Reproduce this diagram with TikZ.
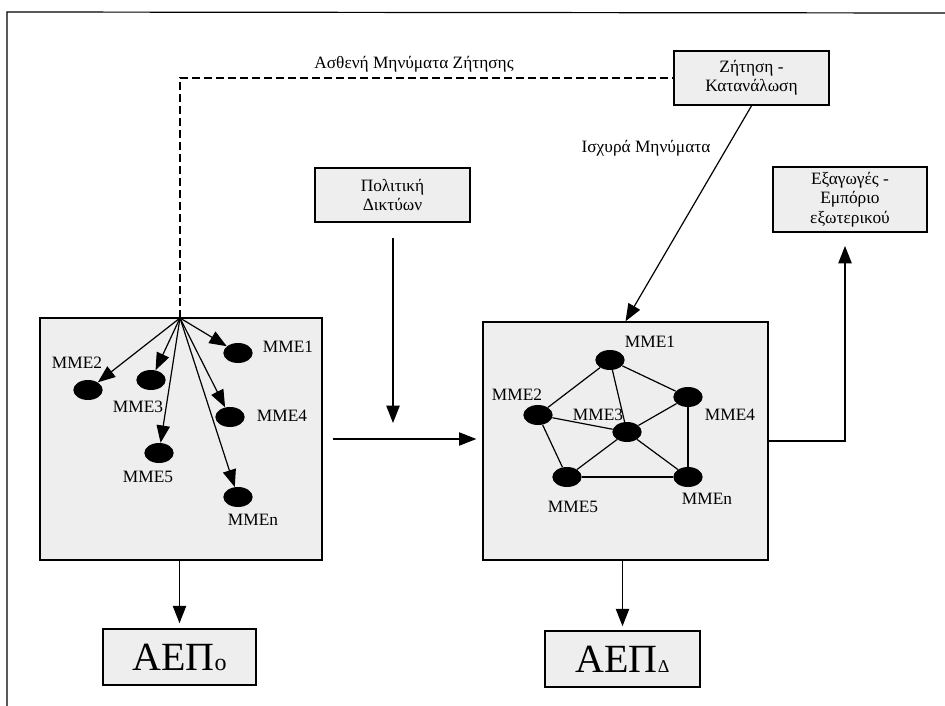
\documentclass[tikz,border=0pt]{standalone}
\usepackage{fontspec}
\setmainfont{Liberation Serif}
\usetikzlibrary{shapes.geometric,arrows.meta}

\begin{document}
\begin{tikzpicture}[x=0.75pt,y=-0.75pt,
  box/.style={draw,line width=1.2pt,fill=gray!13,align=center,
    font=\fontsize{13}{14.5}\selectfont,inner sep=0pt},
  bigbox/.style={draw,line width=1pt,fill=gray!13,inner sep=0pt},
  mme/.style={ellipse,fill=black,minimum width=22pt,minimum height=15pt,inner sep=0pt},
  lbl/.style={font=\fontsize{13}{14}\selectfont,inner sep=0pt},
  wire/.style={line width=0.9pt},
  arr/.style={-{Triangle[length=13pt,width=10pt]},line width=0.9pt}]
\useasboundingbox (0,0) rectangle (945,706);
\draw[line width=0.9pt] (7,706) -- (7,12) -- (945,13);

% boxes
\node[box,minimum width=116pt,minimum height=40.5pt] (zitisi) at (751.5,78) {Ζήτηση -\\Κατανάλωση};
\node[box,minimum width=116pt,minimum height=40.5pt] (politiki) at (392.5,195) {Πολιτική\\Δικτύων};
\node[box,minimum width=115.5pt,minimum height=49pt] (exagoges) at (850,199.5) {Εξαγωγές -\\Εμπόριο\\εξωτερικού};
\node[bigbox,minimum width=211.5pt,minimum height=181.5pt] (leftbox) at (181,439) {};
\node[bigbox,minimum width=213.75pt,minimum height=178.5pt] (rightbox) at (625.5,441) {};
\node[box,minimum width=114.75pt,minimum height=42pt,font=\fontsize{30}{32}\selectfont] (aepO) at (179.5,657) {ΑΕΠ{\fontsize{18}{18}\selectfont o}};
\node[box,minimum width=116.25pt,minimum height=42pt,font=\fontsize{30}{32}\selectfont] (aepD) at (622.5,659) {ΑΕΠ{\fontsize{13.5}{14}\selectfont Δ}};

% messages
\coordinate (fan) at (180,318);
\draw[wire,dash pattern=on 6pt off 3pt] (fan) |- (zitisi.west);
\node[font=\fontsize{13}{14}\selectfont] (weak) at (414,64) {Ασθενή Μηνύματα Ζήτησης};
\draw[arr] (zitisi.south) -- (rightbox.north);
\node[font=\fontsize{13}{14}\selectfont] (strong) at (646,148) {Ισχυρά Μηνύματα};

% left box
\node[mme] (l1) at (238,353) {};
\node[mme] (l2) at (88,390) {};
\node[mme] (l3) at (151,380) {};
\node[mme] (l4) at (230,417) {};
\node[mme] (l5) at (159,453) {};
\node[mme] (lN) at (238,497) {};
\node[lbl] (ll1) at (288,347) {MME1};
\node[lbl] (ll2) at (77,363) {MME2};
\node[lbl] (ll3) at (138,407) {MME3};
\node[lbl] (ll4) at (282,416) {MME4};
\node[lbl] (ll5) at (148,477) {MME5};
\node[lbl] (llN) at (253,520) {MMEn};
\foreach \m in {l1,l2,l3,l4,l5,lN}
  \draw[arr] (fan) -- (\m);

% right box
\node[mme] (r1) at (610,360) {};
\node[mme] (r2) at (538,415) {};
\node[mme] (r3) at (627,432) {};
\node[mme] (r4) at (688,397) {};
\node[mme] (r5) at (567,477) {};
\node[mme] (rN) at (688,477) {};
\node[lbl] (rl1) at (650,342) {MME1};
\node[lbl] (rl2) at (517,395) {MME2};
\node[lbl] (rl3) at (598,415) {MME3};
\node[lbl] (rl4) at (730,415) {MME4};
\node[lbl] (rl5) at (573,507) {MME5};
\node[lbl] (rlN) at (707,499) {MMEn};
\foreach \a/\b in {r1/r2,r1/r3,r1/r4,r2/r3,r2/r5,r3/r4,r3/r5,r3/rN,r4/rN,r5/rN}
  \draw[wire] (\a) -- (\b);

% flows
\coordinate (polstart) at (393,238);
\coordinate (polend) at (393,423);
\draw[arr] (polstart) -- (polend);
\draw[arr] ([xshift=7.5pt]leftbox.east) -- ([xshift=-4.5pt]leftbox.east -| rightbox.west);
\draw[arr] (rightbox.east) -| ([xshift=-3.75pt,yshift=-9.75pt]exagoges.south);
\draw[arr] (leftbox.south -| aepO.north) -- ([yshift=3.75pt]aepO.north);
\draw[arr] (rightbox.south -| aepD.north) -- ([yshift=3pt]aepD.north);
\end{tikzpicture}
\end{document}
